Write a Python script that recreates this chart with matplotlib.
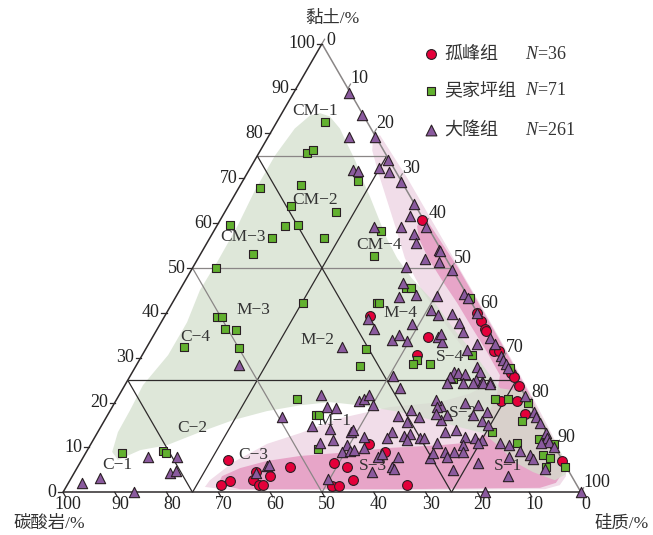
import numpy as np
import matplotlib
matplotlib.use("Agg")
import matplotlib.pyplot as plt
from matplotlib.patches import Polygon

plt.rcParams['font.family'] = ['Liberation Serif', 'Noto Sans CJK SC']
plt.rcParams['mathtext.fontset'] = 'custom'
plt.rcParams['mathtext.it'] = 'Liberation Serif:italic'
plt.rcParams['mathtext.rm'] = 'Liberation Serif'

# ---- data: clay % and siliceous % (carbonate = 100 - clay - silica) ----
# 孤峰组
gufeng_clay = [60.6, 39.3, 34.7, 30.6, 40.0, 38.1, 36.5, 35.9, 31.5, 31.5, 26.6, 25.6,
               23.8, 20.3, 20.3, 17.4, 7.0, 10.7, 8.9, 6.6, 5.6, 2.7, 1.5, 1.5,
               1.6, 5.6, 7.2, 4.5, 3.6, 2.7, 2.6, 1.6, 1.6, 1.6]
gufeng_silica = [39.1, 39.7, 53.2, 53.1, 59.9, 61.6, 63.2, 63.8, 67.4, 68.4, 73.1, 74.2,
                 76.1, 74.5, 77.5, 80.4, 92.9, 53.7, 57.8, 49.1, 52.1, 54.7, 51.1, 52.6,
                 65.6, 41.1, 28.2, 35.1, 38.1, 35.4, 31.0, 29.7, 37.0, 37.8]

# 吴家坪组
wujiaping_clay = [82.5, 75.7, 76.2, 67.8, 68.6, 63.8, 62.4, 59.5, 59.4, 59.5, 56.8, 56.6,
                  53.1, 49.9, 42.2, 39.1, 39.1, 36.4, 36.1, 32.2, 32.4, 69.3, 58.3, 52.6,
                  42.3, 42.3, 45.6, 45.6, 32.0, 28.1, 29.4, 28.6, 28.7, 30.5, 25.2, 43.4,
                  27.8, 20.8, 20.9, 20.0, 15.9, 13.4, 10.9, 11.9, 10.7, 8.4, 7.7, 5.6,
                  5.6, 20.8, 17.2, 17.3, 9.6, 8.7, 9.1, 8.8]
wujiaping_silica = [9.4, 9.3, 10.1, 4.2, 11.7, 12.1, 21.6, 2.5, 13.2, 15.6, 11.9, 22.1,
                    10.2, 4.6, 25.2, 10.2, 11.2, 13.1, 15.3, 17.8, 7.2, 22.3, 32.3, 33.8,
                    39.4, 39.9, 43.4, 44.4, 42.5, 43.2, 53.7, 53.2, 56.5, 63.7, 62.6, 56.9,
                    72.4, 73.0, 75.5, 79.8, 80.7, 76.1, 82.2, 85.9, 89.4, 88.5, 90.1, 90.4,
                    94.2, 34.7, 40.2, 40.7, 44.5, 7.0, 14.8, 15.5]

# 大隆组
dalong_clay = [89.0, 84.1, 79.1, 79.1, 74.1, 72.2, 71.5, 69.2, 71.8, 71.6, 64.2, 61.7,
               59.2, 59.1, 57.5, 55.6, 59.2, 54.1, 53.7, 51.9, 51.4, 50.3, 49.5, 46.7,
               43.6, 44.0, 43.7, 40.6, 39.6, 38.7, 36.5, 37.6, 32.4, 33.9, 35.0, 33.8,
               34.7, 25.9, 44.3, 43.4, 39.9, 39.7, 37.8, 34.3, 35.8, 33.5, 33.0, 31.8,
               30.4, 29.5, 28.0, 28.5, 26.9, 26.9, 26.5, 26.3, 25.6, 25.0, 24.6, 24.6,
               33.0, 27.7, 35.4, 24.3, 24.3, 24.3, 24.4, 24.1, 19.8, 19.4, 18.0, 17.2,
               16.1, 17.2, 15.9, 15.0, 14.0, 13.5, 12.4, 12.2, 11.6, 11.0, 10.5, 9.0,
               9.0, 9.0, 7.9, 6.5, 5.0, 11.1, 10.5, 9.2, 7.8, 3.7, 21.4, 18.0,
               16.8, 15.4, 13.3, 12.0, 11.3, 10.2, 10.9, 8.3, 7.4, 5.3, 0.0, 0.1,
               19.3, 21.7, 19.1, 18.8, 20.4, 20.8, 21.8, 19.4, 23.2, 20.6, 19.1, 17.4,
               18.3, 16.7, 17.1, 15.7, 14.8, 14.1, 13.5, 13.9, 13.5, 12.0, 12.4, 12.5,
               13.1, 11.6, 12.2, 12.2, 10.9, 11.6, 11.1, 10.5, 9.0, 9.3, 9.4, 9.8,
               7.8, 8.5, 7.9, 5.6, 5.3, 4.6, 7.6, 8.7, 2.9, 2.1, 3.3, 0.1,
               7.8, 7.9, 4.2, 4.8, 16.8, 5.9, 6.1, 4.2, 28.3]
dalong_silica = [10.8, 15.7, 15.7, 20.7, 25.7, 25.0, 27.2, 30.6, 20.0, 21.1, 35.6, 36.2,
                 35.6, 40.5, 39.0, 40.4, 30.4, 45.6, 46.0, 44.0, 46.9, 41.1, 50.4, 42.2,
                 43.0, 46.1, 50.4, 50.8, 52.5, 39.5, 41.8, 48.5, 37.6, 46.5, 47.3, 49.5,
                 55.1, 50.7, 55.3, 56.4, 60.0, 55.2, 57.5, 65.3, 59.4, 56.4, 63.5, 62.0,
                 69.4, 70.2, 65.9, 71.2, 67.1, 62.1, 63.1, 64.5, 62.0, 67.2, 68.5, 70.1,
                 66.9, 72.1, 55.2, 61.9, 65.1, 67.0, 68.9, 70.4, 67.7, 70.5, 72.8, 65.5,
                 64.9, 70.6, 72.9, 74.6, 68.9, 67.0, 71.4, 73.4, 75.0, 74.6, 71.9, 71.0,
                 72.8, 69.2, 70.1, 76.9, 72.8, 78.9, 80.9, 83.6, 82.2, 84.0, 78.5, 81.9,
                 83.0, 84.3, 86.6, 87.5, 88.2, 89.6, 86.8, 86.0, 87.1, 90.4, 100.0, 81.5,
                 63.3, 39.0, 41.5, 43.3, 47.0, 47.7, 48.2, 50.2, 53.5, 61.7, 62.6, 63.4,
                 58.0, 60.4, 56.1, 58.5, 40.7, 44.4, 48.8, 49.1, 56.7, 56.5, 51.9, 59.6,
                 60.4, 60.6, 62.8, 63.6, 66.7, 46.3, 44.1, 49.5, 49.3, 50.8, 51.5, 53.2,
                 57.0, 57.3, 60.8, 60.7, 61.2, 57.3, 67.1, 67.1, 49.7, 2.6, 5.4, 13.7,
                 12.6, 18.1, 18.6, 19.5, 33.8, 36.5, 36.8, 35.2, 19.9]

# shaded fields (clay, silica outlines)
green_clay = [84.5, 83.8, 81.1, 77.8, 74.0, 70.0, 65.8, 61.3, 56.6, 52.2, 47.7, 42.2,
              36.1, 31.2, 26.8, 23.2, 22.3, 5.9, 3.9, 2.7, 4.5, 6.7, 10.1, 13.2,
              14.5, 15.7, 17.9, 19.4, 20.1, 19.4, 18.1, 16.1, 13.4, 10.5, 9.4, 7.2,
              9.0, 13.4, 18.3, 23.9, 30.6, 37.9, 45.1, 51.7, 59.5, 67.3, 75.1, 81.1, 84.0]
green_silica = [7.4, 9.6, 12.9, 15.9, 19.4, 22.7, 26.4, 30.2, 34.2, 38.4, 43.5, 50.7,
                57.6, 63.6, 68.6, 72.8, 78.5, 94.6, 95.0, 93.6, 88.5, 83.9, 79.3, 74.5,
                69.4, 64.9, 56.1, 47.6, 41.5, 36.1, 30.3, 24.8, 19.7, 14.8, 10.2, 7.0,
                5.0, 3.9, 3.8, 3.5, 5.0, 5.0, 3.9, 4.1, 4.0, 3.4, 3.4, 4.2, 5.7]

light_clay = [79.6, 70.0, 60.0, 50.0, 40.0, 30.0, 20.0, 12.0, 6.0, 3.6, 1.6, 0.7,
              0.5, 0.5, 1.2, 2.7, 6.7, 10.8, 13.2, 16.5, 19.0, 20.1, 22.0, 24.3,
              27.9, 33.2, 39.9, 45.7, 52.2, 58.9, 65.1, 71.3, 76.2, 79.1]
light_silica = [21.4, 31.5, 41.5, 51.5, 61.5, 71.4, 81.2, 88.8, 94.2, 95.3, 95.1, 92.7,
                64.8, 32.0, 26.8, 27.0, 29.5, 34.0, 39.2, 45.2, 53.6, 62.7, 67.5, 70.3,
                66.2, 60.0, 52.3, 46.1, 39.9, 34.8, 30.0, 25.2, 21.6, 20.3]

dark_clay = [60.6, 60.2, 50.0, 40.0, 30.0, 22.0, 15.0, 8.0, 4.5, 2.1, 1.0, 0.7,
             0.7, 1.8, 3.6, 5.4, 7.0, 8.1, 8.8, 9.9, 10.5, 11.2, 13.9, 18.3,
             21.7, 26.1, 31.2, 36.6, 42.2, 47.3, 52.2, 56.6, 59.3]
dark_silica = [38.6, 40.4, 51.3, 61.3, 71.2, 79.0, 85.5, 92.2, 94.3, 94.1, 91.6, 64.7,
               33.8, 29.0, 28.9, 31.5, 35.9, 41.7, 49.1, 58.2, 67.5, 73.9, 75.1, 73.3,
               72.9, 71.3, 66.3, 60.7, 55.0, 49.5, 44.4, 40.4, 38.7]

field_names = ['CM−1', 'CM−2', 'CM−3', 'CM−4', 'M−3', 'M−2', 'M−4', 'C−4',
               'C−2', 'C−1', 'C−3', 'M−1', 'S−3', 'S−4', 'S−2', 'S−1']
field_pos = [(48.6, 73.6), (48.6, 56.4), (34.7, 49.3), (61.0, 47.7), (36.7, 35.2),
             (49.2, 29.4), (65.1, 34.6), (25.5, 30.0), (24.9, 12.4), (10.4, 5.3),
             (36.7, 7.2), (52.5, 13.8), (59.8, 5.1), (74.7, 26.1), (77.2, 15.3), (85.9, 5.1)]

ticks = list(range(0, 101, 10))

SQ3 = np.sqrt(3) / 2


def tern(clay, silica):
    clay = np.asarray(clay, float)
    silica = np.asarray(silica, float)
    return silica + clay / 2, clay * SQ3


fig = plt.figure(figsize=(6.53, 5.35), dpi=100)
ax = fig.add_axes([0, 0, 1, 1])
ax.set_xlim(-12.16, 113.9)
ax.set_ylim(-8.24, 95.04)
ax.axis('off')

# shaded fields
x, y = tern(light_clay, light_silica)
ax.add_patch(Polygon(np.column_stack([x, y]), closed=True, fc='#f1dde9', ec='none', zorder=1))
x, y = tern(dark_clay, dark_silica)
ax.add_patch(Polygon(np.column_stack([x, y]), closed=True, fc='#e7a5c8', ec='none', zorder=2))
x, y = tern(green_clay, green_silica)
ax.add_patch(Polygon(np.column_stack([x, y]), closed=True, fc='#d3dfcd', ec='none',
                     alpha=0.75, zorder=3))

dark = '#2e2a2b'
grey = '#8a8686'


def tline(c1, s1, c2, s2, color, lw=0.9):
    lx, ly = tern([c1, c2], [s1, s2])
    ax.plot(lx, ly, color=color, lw=lw, zorder=4, solid_capstyle='butt')


# grid of fields
for v, col in [(25, dark), (50, grey), (75, grey)]:
    tline(v, 0, v, 100 - v, col)
for v, col in [(25, dark), (50, grey), (75, dark)]:
    tline(0, 100 - v, 100 - v, 0, col)  # carbonate constant
    tline(0, v, 100 - v, v, col)        # silica constant

# triangle edges
tline(0, 0, 0, 100, dark, 1.1)
tline(0, 0, 100, 0, dark, 1.1)
tline(100, 0, 0, 100, grey, 1.1)

# ticks and labels
tl = 1.0
for v in ticks:
    # clay (left)
    px, py = tern(v, 0)
    ax.plot([px, px - tl], [py, py], color=dark, lw=0.9, zorder=4)
    ax.text(px - 1.3, py, str(v), ha='right', va='center', fontsize=13, color='#222')
    # silica (right)
    px, py = tern(100 - v, v)
    ax.plot([px, px + tl * 0.5], [py, py + tl * SQ3], color=grey, lw=0.9, zorder=4)
    if v == 0:
        ax.text(px + 0.9, py + 0.7, str(v), ha='left', va='center', fontsize=13, color='#222')
    else:
        ax.text(px + 0.5, py + 1.9, str(v), ha='left', va='center', fontsize=13, color='#222')
    # carbonate (bottom)
    px, py = tern(0, 100 - v)
    ax.plot([px, px + tl * 0.5], [py, py - tl * SQ3], color=dark, lw=0.9, zorder=4)
    ax.text(px + 1.0, py - 2.4, str(v), ha='center', va='center', fontsize=13, color='#222')

ax.text(52.1, 91.4, '黏土/%', ha='center', va='center', fontsize=12.5, color='#333')
ax.text(-2.7, -6.1, '碳酸岩/%', ha='center', va='center', fontsize=12.5, color='#333')
ax.text(107.9, -6.1, '硅质/%', ha='center', va='center', fontsize=12.5, color='#333')

for name, (fx, fy) in zip(field_names, field_pos):
    ax.text(fx, fy, name, ha='center', va='center', fontsize=12.5, color='#333', zorder=5)

# samples
edge = '#2a1f24'
x, y = tern(gufeng_clay, gufeng_silica)
ax.scatter(x, y, s=50, marker='o', fc='#e4003a', ec=edge, lw=0.8, zorder=6)
x, y = tern(wujiaping_clay, wujiaping_silica)
ax.scatter(x, y, s=34, marker='s', fc='#62b12f', ec=edge, lw=0.8, zorder=7)
x, y = tern(dalong_clay, dalong_silica)
ax.scatter(x, y, s=55, marker='^', fc='#8a5a9e', ec=edge, lw=0.8, zorder=8)

# legend
leg = [('o', '#e4003a', 50, '孤峰组', '$N$=36', 84.6),
       ('s', '#62b12f', 40, '吴家坪组', '$N$=71', 77.5),
       ('^', '#8a5a9e', 60, '大隆组', '$N$=261', 69.9)]
for mk, fc, sz, name, ntxt, ly in leg:
    ax.scatter([71.0], [ly], s=sz, marker=mk, fc=fc, ec=edge, lw=0.8, zorder=8)
    ax.text(73.6, ly, name, ha='left', va='center', fontsize=13, color='#333')
    ax.text(89.2, ly, ntxt, ha='left', va='center', fontsize=13, color='#333')

fig.savefig('out.png', dpi=100)
